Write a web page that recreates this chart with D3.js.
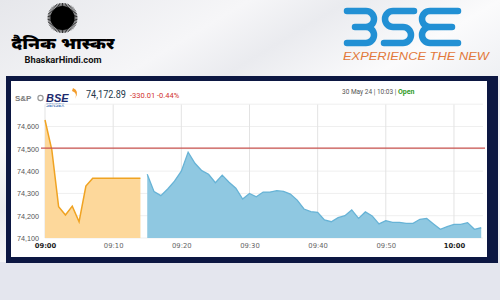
<!DOCTYPE html>
<html><head><meta charset="utf-8">
<script src="https://cdn.jsdelivr.net/npm/d3@7"></script>
<style>body{margin:0;background:#fff}svg{display:block}</style>
</head><body>
<svg id="c" width="500" height="300"></svg>
<script>
// ---- data ----
const preOpenTimes = ["09:00","09:01","09:02","09:03","09:04","09:05","09:06","09:07","09:08","09:09","09:10","09:11","09:12","09:13","09:14"];
const preOpenValues = [74629,74495,74240,74203,74243,74173,74333,74368,74368,74368,74368,74368,74368,74368,74368];
const sessionTimes = ["09:15","09:16","09:17","09:18","09:19","09:20","09:21","09:22","09:23","09:24","09:25","09:26","09:27","09:28","09:29","09:30","09:31","09:32","09:33","09:34","09:35","09:36","09:37","09:38","09:39","09:40","09:41","09:42","09:43","09:44","09:45","09:46","09:47","09:48","09:49","09:50","09:51","09:52","09:53","09:54","09:55","09:56","09:57","09:58","09:59","10:00","10:01","10:02","10:03","10:04"];
const sessionValues = [74386,74308,74290,74320,74355,74400,74485,74435,74402,74386,74348,74382,74350,74323,74275,74300,74285,74306,74306,74312,74309,74297,74270,74230,74218,74215,74181,74173,74191,74200,74226,74188,74217,74199,74163,74178,74170,74170,74166,74166,74184,74188,74163,74139,74151,74161,74161,74169,74139,74146];
const previousClose = 74502.90;
const yTickValues = [74100,74200,74300,74400,74500,74600];
const xTickLabels = ["09:00","09:10","09:20","09:30","09:40","09:50","10:00"];
const lastPrice = "74,172.89";
const change = "-330.01 -0.44%";
const stamp = ["30 May 24 | 10:03 | ", "Open"];

const svg = d3.select("#c");
const parse = d3.timeParse("%H:%M");
const parseS = d3.timeParse("%H:%M:%S");

// ---- background ----
const defs = svg.append("defs");
const g1 = defs.append("linearGradient").attr("id","bg").attr("x1","0").attr("y1","0").attr("x2","1").attr("y2","1");
[["0","#e6e7eb"],["0.25","#f6f6f8"],["0.35","#eaebef"],["0.5","#fbfbfc"],["0.65","#eceef2"],["0.8","#f7f7f9"],["1","#e4e6ec"]].forEach(s=>g1.append("stop").attr("offset",s[0]).attr("stop-color",s[1]));
svg.append("rect").attr("width",500).attr("height",300).attr("fill","url(#bg)");

// Bhaskar logo
const sun = svg.append("g").attr("transform","translate(62.5,18)");
sun.append("circle").attr("r",12).attr("fill","#000");
d3.range(60).forEach(i=>{const a=i/60*2*Math.PI;
  sun.append("line").attr("x1",11*Math.cos(a)).attr("y1",11*Math.sin(a)).attr("x2",15*Math.cos(a)).attr("y2",15*Math.sin(a)).attr("stroke","#000").attr("stroke-width",0.8);});
svg.append("text").attr("x",63).attr("y",49).attr("text-anchor","middle").attr("font-family","Noto Sans Devanagari, Noto Sans, sans-serif").attr("font-weight","900").attr("font-size",16).attr("textLength",103).attr("lengthAdjust","spacingAndGlyphs").attr("fill","#000").text("दैनिक भास्कर");
svg.append("text").attr("x",63).attr("y",63).attr("text-anchor","middle").attr("font-family","Roboto, sans-serif").attr("font-weight","bold").attr("font-size",8.5).attr("textLength",77).attr("lengthAdjust","spacingAndGlyphs").attr("fill","#111").text("BhaskarHindi.com");

// BSE logo
const bse = svg.append("g").attr("fill","none").attr("stroke","#2290d4").attr("stroke-width",6.5).attr("stroke-linecap","round");
bse.append("path").attr("d","M347,11 H366 A8,8 0 0 1 366,27 H355 M366,27 A8,8 0 0 1 366,43 H347");
bse.append("path").attr("d","M414,11 H393 A8,8 0 0 0 393,27 H403 A8,8 0 0 1 403,43 H384");
bse.append("path").attr("d","M458,11 H430 A8,8 0 0 0 430,27 H452 M430,27 A8,8 0 0 0 430,43 H458");
svg.append("text").attr("x",343).attr("y",60).attr("font-family","Liberation Sans, Arial, sans-serif").attr("font-style","italic").attr("font-size",10.5).attr("textLength",146).attr("lengthAdjust","spacingAndGlyphs").attr("fill","#e2783a").text("EXPERIENCE THE NEW");

// frame
svg.append("rect").attr("x",0).attr("y",262).attr("width",500).attr("height",38).attr("fill","#e4e6ee");
svg.append("rect").attr("x",6).attr("y",76).attr("width",492).attr("height",187).attr("fill","#0c1742");
svg.append("rect").attr("x",11).attr("y",81).attr("width",476).attr("height",176).attr("fill","#fff");

// header
svg.append("text").attr("x",15).attr("y",101).attr("font-family","Liberation Sans, Arial, sans-serif").attr("font-weight","bold").attr("font-size",8).attr("fill","#7a7a7a").text("S&P");
svg.append("circle").attr("cx",40.5).attr("cy",98).attr("r",2.6).attr("fill","none").attr("stroke","#999").attr("stroke-width",1.2);
svg.append("text").attr("x",46).attr("y",102).attr("font-family","Liberation Sans, Arial, sans-serif").attr("font-weight","bold").attr("font-style","italic").attr("font-size",11).attr("fill","#1c2a6e").text("BSE");
svg.append("path").attr("d","M73,88 Q80,91 75,99 Q78,93 72,91 Z").attr("fill","#f39c2b");
svg.append("text").attr("x",46).attr("y",107).attr("font-family","Liberation Sans, Arial, sans-serif").attr("font-size",4.5).attr("fill","#2a5fb0").text("SENSEX");
svg.append("text").attr("x",86).attr("y",98).attr("font-family","Roboto, sans-serif").attr("font-size",10.5).attr("textLength",40).attr("lengthAdjust","spacingAndGlyphs").attr("fill","#23394a").text(lastPrice);
svg.append("text").attr("x",130).attr("y",98).attr("font-family","Roboto, sans-serif").attr("font-size",7.5).attr("fill","#d2322d").text(change);
const st = svg.append("text").attr("x",342).attr("y",94).attr("font-family","Roboto, sans-serif").attr("font-size",6.5).attr("fill","#555");
st.append("tspan").text(stamp[0]);
st.append("tspan").attr("fill","#2e9a1e").attr("font-weight","bold").attr("font-size",7).text(stamp[1]);

// ---- chart ----
const x = d3.scaleTime().domain([parse("09:00"), parseS("10:04:20")]).range([45, 483.5]);
const y = d3.scaleLinear().domain([74100, 74700]).range([238, 104.2]);

// gridlines
svg.append("g").selectAll("line").data(yTickValues.concat([74700])).join("line")
  .attr("x1",45).attr("x2",483).attr("y1",d=>y(d)).attr("y2",d=>y(d)).attr("stroke","#efefef").attr("stroke-width",1);
svg.append("g").selectAll("line").data(xTickLabels.map(parse)).join("line")
  .attr("x1",d=>x(d)).attr("x2",d=>x(d)).attr("y1",104.5).attr("y2",238).attr("stroke","#e3e3e3").attr("stroke-width",1);

const pre = preOpenTimes.map((t,i)=>({t:parse(t), v:preOpenValues[i]}));
const ses = sessionTimes.map((t,i)=>({t:parse(t), v:sessionValues[i]}));
const area = d3.area().x(d=>x(d.t)).y0(y(74100)).y1(d=>y(d.v));
const line = d3.line().x(d=>x(d.t)).y(d=>y(d.v));

svg.append("path").datum(pre).attr("d",area).attr("fill","#fdd89b");
svg.append("path").datum(pre).attr("d",line).attr("fill","none").attr("stroke","#f0a322").attr("stroke-width",1.5);
svg.append("path").datum(ses).attr("d",area).attr("fill","#8fc8e1");
svg.append("path").datum(ses).attr("d",line).attr("fill","none").attr("stroke","#67b3d6").attr("stroke-width",1.3);

// previous close
svg.append("line").attr("x1",41).attr("x2",485).attr("y1",y(previousClose)).attr("y2",y(previousClose)).attr("stroke","#c8524e").attr("stroke-width",1.3);

// axes
const ya = svg.append("g").attr("transform","translate(39,0)")
  .call(d3.axisLeft(y).tickValues(yTickValues).tickFormat(d3.format(",")).tickSize(0).tickPadding(0));
ya.select(".domain").remove();
ya.selectAll("text").attr("font-family","Liberation Sans, Arial, sans-serif").attr("font-size",7.2).attr("fill","#555");

const xa = svg.append("g").attr("transform","translate(0,243)")
  .call(d3.axisBottom(x).tickValues(xTickLabels.map(parse)).tickFormat(d3.timeFormat("%H:%M")).tickSize(0).tickPadding(0));
xa.select(".domain").remove();
xa.selectAll("text").attr("font-family","DejaVu Sans, sans-serif").attr("font-size",6.8).attr("fill","#666")
  .attr("font-weight",d=>d.getMinutes()===0?"bold":"normal").attr("fill",d=>d.getMinutes()===0?"#222":"#666");
</script>
</body></html>
